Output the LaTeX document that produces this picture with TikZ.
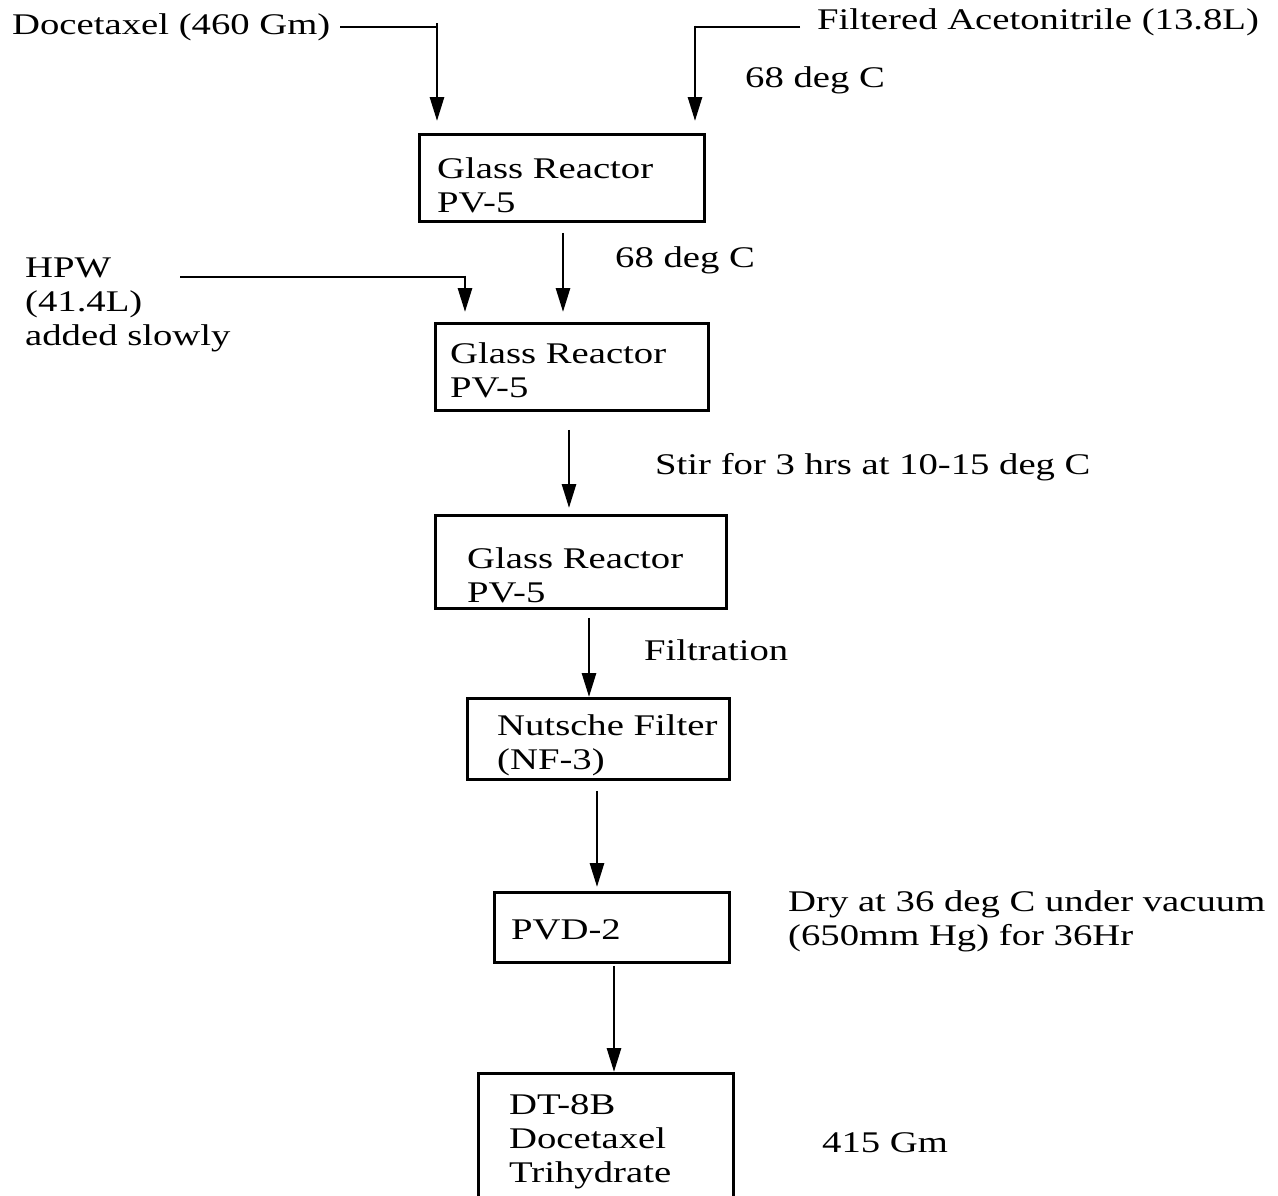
\documentclass[tikz,border=0pt]{standalone}
\usepackage{fontspec}
\setmainfont{Liberation Serif}[FakeStretch=1.29]
\usetikzlibrary{arrows.meta}
\begin{document}
\begin{tikzpicture}[x=1pt,y=-1pt,
  box/.style={draw,line width=2.8pt,anchor=north west,inner sep=0pt},
  lbl/.style={anchor=west,inner sep=0pt,align=left,font=\fontsize{30pt}{34pt}\selectfont},
  arr/.style={line width=2.8pt,-{Triangle[length=24pt,width=14pt]}},
  ln/.style={line width=2.8pt}]
\useasboundingbox (0,0) rectangle (1278,1195);
\clip (0,0) rectangle (1278,1195);
% boxes
\node[box,minimum width=285pt,minimum height=87pt] (b1) at (418,133) {};
\node[box,minimum width=273pt,minimum height=87pt] (b2) at (434,322) {};
\node[box,minimum width=291pt,minimum height=93pt] (b3) at (434,514) {};
\node[box,minimum width=262pt,minimum height=81pt] (b4) at (466,697) {};
\node[box,minimum width=235pt,minimum height=70pt] (b5) at (493,891) {};
\node[box,minimum width=255pt,minimum height=160pt] (b6) at (477,1072) {};
% box texts
\node[lbl] (t1) at (437,185) {Glass Reactor\\PV-5};
\node[lbl] (t2) at (450,370) {Glass Reactor\\PV-5};
\node[lbl] (t3) at (467,575) {Glass Reactor\\PV-5};
\node[lbl] (t4) at (497,745) {Nutsche Filter\\(NF-3)};
\node[lbl] (t5) at (511,930) {PVD-2};
\node[lbl] (t6) at (509,1142) {DT-8B\\Docetaxel\\Trihydrate};
% side texts
\node[lbl] (doc) at (12,27) {Docetaxel (460 Gm)};
\node[lbl] (acn) at (817,22) {Filtered Acetonitrile (13.8L)};
\node[lbl] (c1) at (745,80) {68 deg C};
\node[lbl] (c2) at (615,260) {68 deg C};
\node[lbl] (hpw) at (25,305) {HPW\\(41.4L)\\added slowly};
\node[lbl] (stir) at (655,467) {Stir for 3 hrs at 10-15 deg C};
\node[lbl] (filt) at (644,650) {Filtration};
\node[lbl] (dry) at (788,921) {Dry at 36 deg C under vacuum\\(650mm Hg) for 36Hr};
\node[lbl] (gm) at (822,1143) {415 Gm};
% junction coordinates
\coordinate (j1) at (437,27);
\coordinate (j2) at (695,27);
\coordinate (j3) at (465,277);
\coordinate (x2) at (563,0);
\coordinate (x3) at (569,0);
\coordinate (x4) at (589,0);
\coordinate (x5) at (597,0);
\coordinate (x6) at (614,0);
\coordinate (hs) at (180,277);
\coordinate (as) at (800,27);
% feed lines
\draw[ln] ([xshift=10pt]doc.east |- j1) -- (j1);
\draw[arr] ([yshift=4pt]j1) -- ([yshift=12pt]b1.north -| j1);
\draw[ln] (as) -- (j2);
\draw[arr] ([yshift=1.4pt]j2) -- ([yshift=12pt]b1.north -| j2);
\draw[ln] (hs) -- (j3);
\draw[arr] ([yshift=1.4pt]j3) -- ([yshift=10pt]b2.north -| j3);
% main flow
\draw[arr] ([yshift=-10pt]b1.south -| x2) -- ([yshift=10pt]b2.north -| x2);
\draw[arr] ([yshift=-18pt]b2.south -| x3) -- ([yshift=6pt]b3.north -| x3);
\draw[arr] ([yshift=-8pt]b3.south -| x4) -- (b4.north -| x4);
\draw[arr] ([yshift=-10pt]b4.south -| x5) -- ([yshift=4pt]b5.north -| x5);
\draw[arr] ([yshift=-2pt]b5.south -| x6) -- (b6.north -| x6);
\end{tikzpicture}
\end{document}
